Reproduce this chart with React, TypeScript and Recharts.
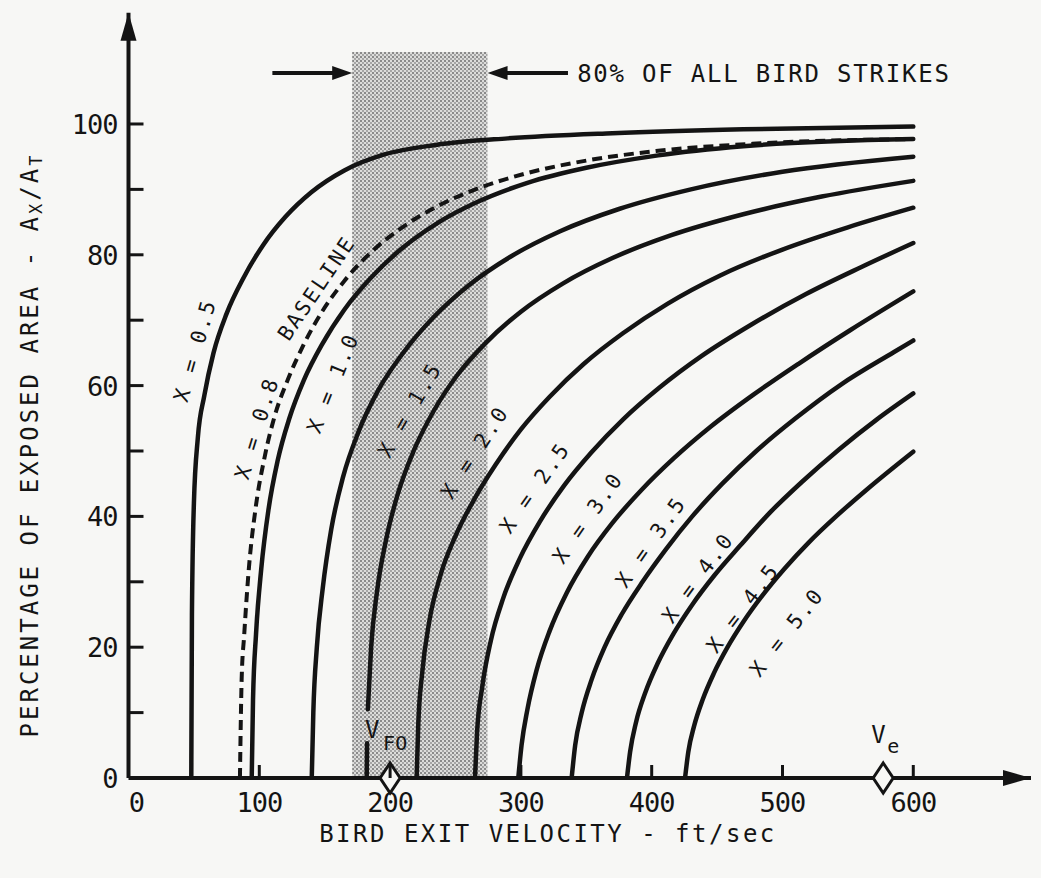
import React from "react";
import {
  LineChart,
  Line,
  XAxis,
  YAxis,
  ReferenceArea,
  ReferenceLine,
  ReferenceDot,
} from "recharts";

type Pt = [number, number | null];

// velocity (ft/sec) vs percentage of exposed area, one array per X value
const curve05: Pt[] = [[48, 0], [48.5, 25], [50, 42], [53, 52], [58, 58.5], [65, 65], [75, 71], [88, 76.5], [103, 81.5], [120, 85.8], [140, 89.6], [165, 92.9], [195, 95.3], [235, 96.8], [290, 97.8], [370, 98.6], [470, 99.2], [600, 99.6]];
const curve08: Pt[] = [[85.2, 0], [86.5, 15], [88.5, 22], [92, 32], [97, 41], [104, 49], [112, 55.5], [122, 61], [134, 66.3], [148, 71.3], [165, 76], [185, 80.3], [208, 84], [235, 87.3], [268, 90.2], [305, 92.5], [350, 94.4], [405, 95.9], [480, 97.0], [600, 97.7]];
const curve10: Pt[] = [[94.2, 0], [95.2, 12], [97.5, 22], [101.5, 32], [107, 41], [114, 48.5], [123, 55], [134, 60.8], [148, 66.3], [165, 71.6], [185, 76.4], [208, 80.8], [235, 84.7], [267, 88.1], [305, 91], [350, 93.3], [405, 95.2], [470, 96.6], [600, 97.7]];
const curve15: Pt[] = [[140.1, 0], [141.3, 10], [144, 20], [148.5, 29], [155, 38], [164, 46], [176, 53], [191, 59.3], [210, 65], [233, 70.4], [260, 75.3], [292, 79.7], [330, 83.6], [375, 87], [430, 90], [500, 92.7], [600, 95.0]];
const curve20: Pt[] = [[182.1, 0], [182.4, 5.3], [182.7, null], [183, 10.5], [185.5, 20], [190, 28.5], [197, 36.5], [206, 43.5], [218, 50], [233, 56], [251, 61.5], [273, 66.5], [300, 71.3], [332, 75.6], [370, 79.5], [415, 83], [470, 86.2], [530, 88.9], [600, 91.3]];
const curve25: Pt[] = [[220.3, 0], [221.5, 8], [224.5, 16], [230, 24], [238.5, 31], [250, 37], [264, 42.5], [281, 48], [300, 53.3], [322, 58.3], [348, 63.3], [378, 68], [412, 72.5], [452, 76.8], [500, 80.8], [550, 84.2], [600, 87.2]];
const curve30: Pt[] = [[264.9, 0], [266.5, 7], [270.5, 14], [277, 21], [286.5, 27.5], [299, 33.5], [314.5, 39.2], [333, 44.7], [354, 49.8], [378, 54.8], [406, 59.7], [438, 64.5], [476, 69.3], [518, 74], [560, 78.1], [600, 81.8]];
const curve35: Pt[] = [[298, 0], [300.5, 5], [305, 10.5], [312, 16.5], [322, 22.5], [335, 28.3], [351, 33.8], [370, 39], [392, 44], [417, 48.9], [445, 53.7], [477, 58.5], [512, 63.3], [552, 68.5], [600, 74.4]];
const curve40: Pt[] = [[338.8, 0], [341.5, 5], [346.5, 10], [354, 15], [364, 20], [377, 25], [393, 30], [411, 35], [431, 40], [454, 45], [480, 50], [510, 55], [545, 60.2], [585, 65.1], [600, 66.9]];
const curve45: Pt[] = [[381.1, 0], [383.5, 4], [388, 8.5], [395, 13], [404.5, 17.5], [416.5, 22], [431, 26.5], [448, 31], [467.5, 35.5], [490, 40.5], [515, 45.3], [543, 50.2], [572, 54.8], [600, 58.8]];
const curve50: Pt[] = [[425.5, 0], [428, 4], [432.5, 8], [439, 12], [447.5, 16], [458, 20], [470.5, 24], [485, 28], [501.5, 32], [520, 36], [541, 40], [565, 44.2], [600, 49.9]];

const solidCurves = [curve05, curve10, curve15, curve20, curve25, curve30, curve35, curve40, curve45, curve50];

const curveLabels = [
  { text: "X = 0.5", x: 51, y: 65.4, angle: -74 },
  { text: "X = 0.8", x: 98.2, y: 53.5, angle: -73 },
  { text: "BASELINE", x: 143.9, y: 74.9, angle: -56 },
  { text: "X = 1.0", x: 156.4, y: 60.4, angle: -68 },
  { text: "X = 1.5", x: 215.2, y: 56.3, angle: -60 },
  { text: "X = 2.0", x: 264.9, y: 49.8, angle: -57 },
  { text: "X = 2.5", x: 310.8, y: 44.4, angle: -55 },
  { text: "X = 3.0", x: 351.3, y: 39.8, angle: -55 },
  { text: "X = 3.5", x: 399.5, y: 36.1, angle: -55 },
  { text: "X = 4.0", x: 435.4, y: 30.6, angle: -54 },
  { text: "X = 4.5", x: 469.8, y: 26.0, angle: -53 },
  { text: "X = 5.0", x: 503.4, y: 22.3, angle: -52 },
];

const xTicks = [0, 100, 200, 300, 400, 500, 600];
const yTicks = [0, 10, 20, 30, 40, 50, 60, 70, 80, 90, 100];
const strikeBand = [171, 274.5];
const vFO = 200;
const vE = 577;

const INK = "#141414";
const PAPER = "#f7f7f5";
const FONT = "'DejaVu Sans Mono', monospace";

const toPoints = (c: Pt[]) => c.map(([x, y]) => ({ x, y }));

function XTick({ x, y, payload }: any) {
  const v = payload.value;
  return (
    <g>
      {v > 0 && <line x1={x} x2={x} y1={y} y2={y - 13} stroke={INK} strokeWidth={3} />}
      <text x={x + (v === 0 ? 8 : 0)} y={y + 34} textAnchor="middle" fontFamily={FONT} fontSize={27} letterSpacing={-1} fill={INK}>
        {v}
      </text>
    </g>
  );
}

function YTick({ x, y, payload }: any) {
  const v = payload.value;
  return (
    <g>
      {v > 0 && <line x1={x} x2={x + 15} y1={y} y2={y} stroke={INK} strokeWidth={3} />}
      {v % 20 === 0 && (
        <text x={x - 11} y={y + 10} textAnchor="end" fontFamily={FONT} fontSize={27} letterSpacing={-1} fill={INK}>
          {v}
        </text>
      )}
    </g>
  );
}

function Arrow({ cx, cy, dir, len = 28, half = 8 }: any) {
  let pts = "";
  if (dir === "right") pts = `${cx},${cy} ${cx - len},${cy - half} ${cx - len},${cy + half}`;
  if (dir === "left") pts = `${cx},${cy} ${cx + len},${cy - half} ${cx + len},${cy + half}`;
  if (dir === "up") pts = `${cx},${cy} ${cx - half},${cy + len} ${cx + half},${cy + len}`;
  return <polygon points={pts} fill={INK} />;
}

function Diamond({ cx, cy, main, sub, vx, vy, sx, sy }: any) {
  return (
    <g>
      <polygon
        points={`${cx},${cy - 15} ${cx + 10},${cy} ${cx},${cy + 15} ${cx - 10},${cy}`}
        fill={PAPER}
        stroke={INK}
        strokeWidth={3}
      />
      <text x={cx + vx} y={cy + vy} fontFamily={FONT} fontSize={24} fill={INK}>
        {main}
      </text>
      <text x={cx + sx} y={cy + sy} fontFamily={FONT} fontSize={20} fill={INK}>
        {sub}
      </text>
    </g>
  );
}

function CurveLabel({ cx, cy, text, angle }: any) {
  return (
    <text
      x={cx}
      y={cy}
      transform={`rotate(${angle} ${cx} ${cy})`}
      textAnchor="middle"
      dominantBaseline="central"
      fontFamily={FONT}
      fontSize={21}
      letterSpacing={2.5}
      fill={INK}
    >
      {text}
    </text>
  );
}

export default function App() {
  return (
    <div style={{ position: "absolute", left: 0, top: 0, width: 1041, height: 878, background: PAPER }}>
      <LineChart width={1041} height={878} margin={{ top: 12.8, right: 10, bottom: 40, left: 68.5 }}>
        <defs>
          <pattern id="stipple" width="4" height="4" patternUnits="userSpaceOnUse">
            <rect width="4" height="4" fill="#dcdcda" />
            <circle cx="1" cy="1" r="1" fill="#6f6f6f" />
            <circle cx="3" cy="3" r="0.9" fill="#8c8c8c" />
          </pattern>
        </defs>
        <XAxis
          type="number"
          dataKey="x"
          domain={[0, 690]}
          ticks={xTicks}
          tick={<XTick />}
          tickSize={0}
          tickMargin={0}
          tickLine={false}
          height={60}
          axisLine={{ stroke: INK, strokeWidth: 4 }}
          allowDataOverflow
        />
        <YAxis
          type="number"
          domain={[0, 117]}
          ticks={yTicks}
          tick={<YTick />}
          tickSize={0}
          tickMargin={0}
          tickLine={false}
          width={60}
          axisLine={{ stroke: INK, strokeWidth: 4 }}
          allowDataOverflow
        />
        <ReferenceArea x1={strikeBand[0]} x2={strikeBand[1]} y1={0} y2={111} fill="url(#stipple)" fillOpacity={1} stroke="none" />

        {solidCurves.map((c, i) => (
          <Line
            key={i}
            data={toPoints(c)}
            dataKey="y"
            type="monotone"
            stroke={INK}
            strokeWidth={4.5}
            strokeLinecap="round"
            dot={false}
            activeDot={false}
            connectNulls={false}
            isAnimationActive={false}
          />
        ))}
        <Line
          data={toPoints(curve08)}
          dataKey="y"
          type="monotone"
          stroke={INK}
          strokeWidth={4}
          strokeDasharray="10 6"
          dot={false}
          activeDot={false}
          isAnimationActive={false}
        />

        {curveLabels.map((l) => (
          <ReferenceDot
            key={l.text}
            x={l.x}
            y={l.y}
            r={0}
            shape={(p: any) => <CurveLabel cx={p.cx} cy={p.cy} text={l.text} angle={l.angle} />}
          />
        ))}

        {/* axis arrow heads */}
        <ReferenceDot x={690} y={0} r={0} shape={(p: any) => <Arrow cx={p.cx} cy={p.cy} dir="right" />} />
        <ReferenceDot x={0} y={117} r={0} shape={(p: any) => <Arrow cx={p.cx} cy={p.cy} dir="up" />} />

        {/* 80% of all bird strikes */}
        <ReferenceLine segment={[{ x: 110, y: 107.8 }, { x: strikeBand[0] - 10, y: 107.8 }]} stroke={INK} strokeWidth={4} />
        <ReferenceLine segment={[{ x: strikeBand[1] + 10, y: 107.8 }, { x: 336, y: 107.8 }]} stroke={INK} strokeWidth={4} />
        <ReferenceDot x={strikeBand[0]} y={107.8} r={0} shape={(p: any) => <Arrow cx={p.cx} cy={p.cy} dir="right" len={20} half={7} />} />
        <ReferenceDot x={strikeBand[1]} y={107.8} r={0} shape={(p: any) => <Arrow cx={p.cx} cy={p.cy} dir="left" len={20} half={7} />} />
        <ReferenceDot
          x={343}
          y={107.8}
          r={0}
          shape={(p: any) => (
            <text x={p.cx} y={p.cy + 9} fontFamily={FONT} fontSize={24} letterSpacing={1.8} fill={INK}>
              80% OF ALL BIRD STRIKES
            </text>
          )}
        />

        {/* V_FO and V_e markers */}
        <ReferenceDot
          x={vFO}
          y={0}
          r={0}
          shape={(p: any) => <Diamond cx={p.cx} cy={p.cy} main="V" sub="FO" vx={-25} vy={-40} sx={-7} sy={-28} />}
        />
        <ReferenceDot
          x={vE}
          y={0}
          r={0}
          shape={(p: any) => <Diamond cx={p.cx} cy={p.cy} main="V" sub="e" vx={-12} vy={-35} sx={4} sy={-25} />}
        />
      </LineChart>

      <svg width={1041} height={878} style={{ position: "absolute", left: 0, top: 0, pointerEvents: "none" }}>
        <text x={548} y={842} textAnchor="middle" fontFamily={FONT} fontSize={24} letterSpacing={2.5} fill={INK}>
          BIRD EXIT VELOCITY - ft/sec
        </text>
        <text
          x={30}
          y={445}
          transform="rotate(-90 30 445)"
          textAnchor="middle"
          dominantBaseline="central"
          fontFamily={FONT}
          fontSize={24}
          letterSpacing={3}
          fill={INK}
        >
          PERCENTAGE OF EXPOSED AREA - A
          <tspan fontSize={17} dy={6}>X</tspan>
          <tspan dy={-6}>/A</tspan>
          <tspan fontSize={17} dy={6}>T</tspan>
        </text>
      </svg>
    </div>
  );
}
